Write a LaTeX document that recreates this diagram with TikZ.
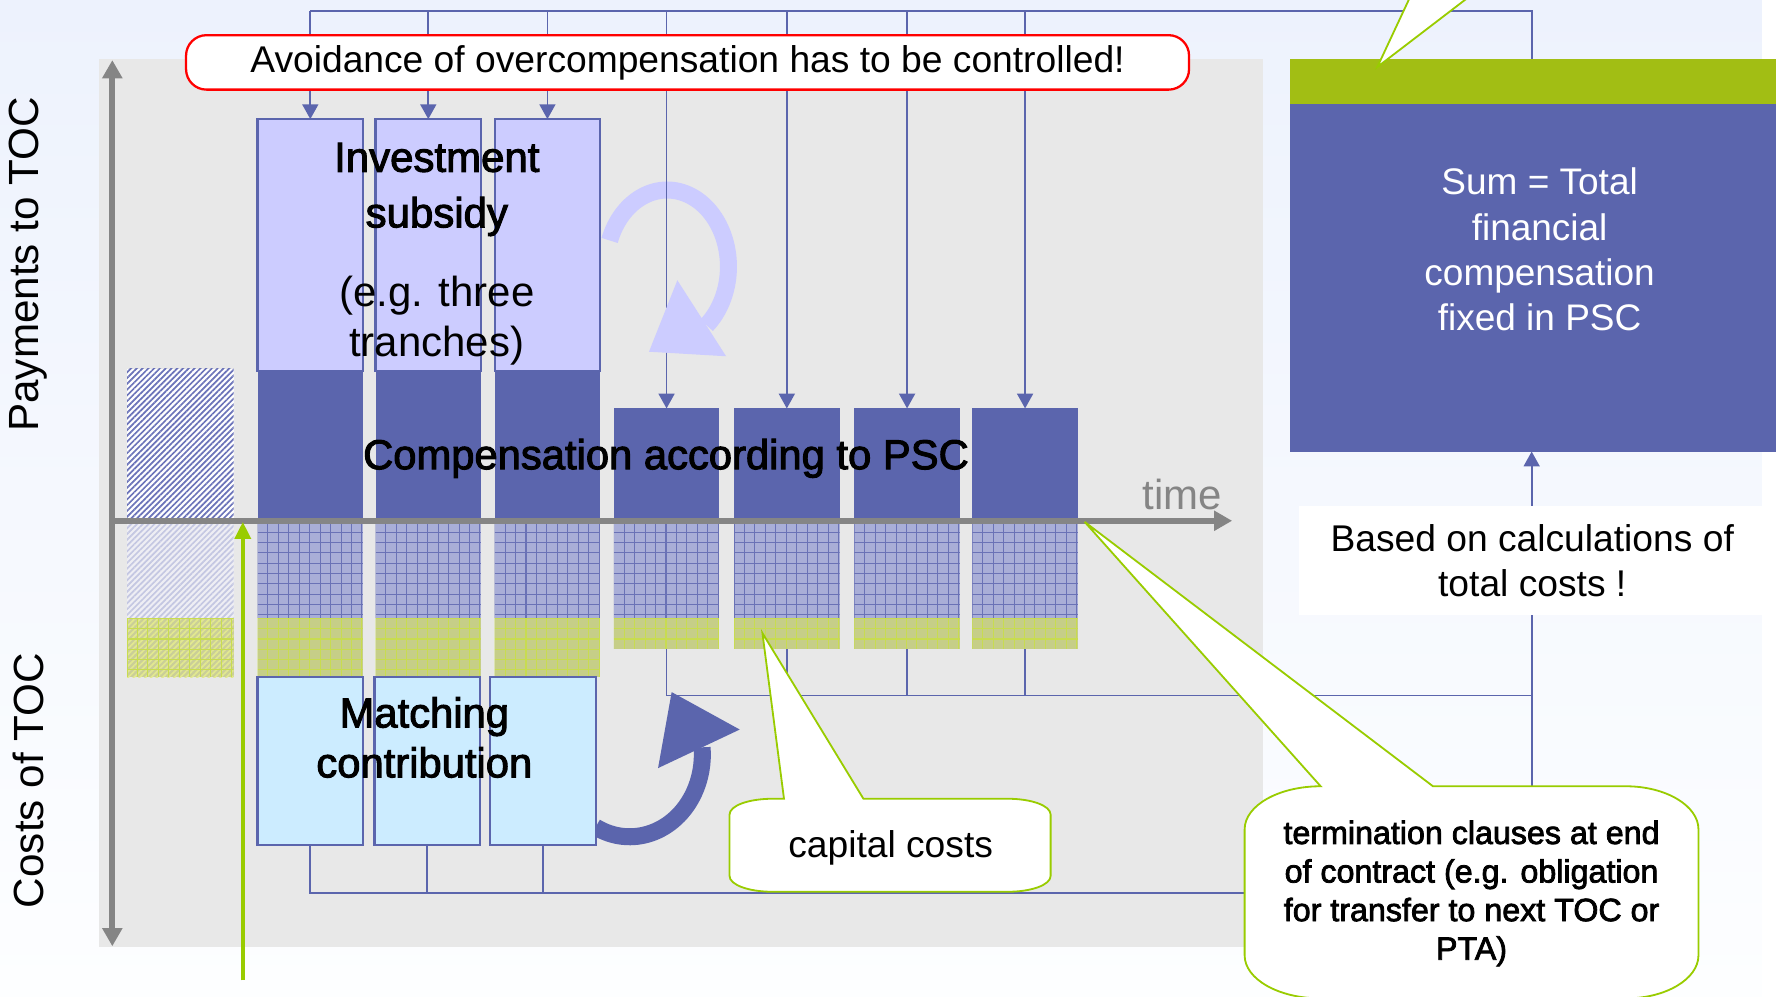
\documentclass[tikz,border=0pt]{standalone}
\usepackage{fontspec}
\setmainfont{Liberation Sans}
\newfontfamily\heavyface{Liberation Sans}[FakeBold=2.4]
\usetikzlibrary{arrows.meta,patterns.meta}

\definecolor{pscblue}{HTML}{5B65AD}
\definecolor{subsidyfill}{HTML}{CCCCFF}
\definecolor{matchfill}{HTML}{CCECFF}
\definecolor{panelgray}{HTML}{E8E8E8}
\definecolor{axisgray}{HTML}{858585}
\definecolor{olivebar}{HTML}{A2BE14}
\definecolor{calloutgreen}{HTML}{99CC00}
\definecolor{skytop}{HTML}{EDF2FD}
\definecolor{skybottom}{HTML}{FDFEFF}
\definecolor{meshbluefill}{HTML}{A9AED7}
\definecolor{meshblueline}{HTML}{6A72B6}
\definecolor{meshgreenfill}{HTML}{C6CE88}
\definecolor{meshgreenline}{HTML}{C8DC50}
\definecolor{hatchblue}{HTML}{6B73B9}
\definecolor{hatchpale}{HTML}{C4C7E2}
\definecolor{hatchpalefill}{HTML}{EEEEF4}
\definecolor{hatchgreenfill}{HTML}{CACE98}
\definecolor{hatchgreen}{HTML}{E2E890}

% square mesh lines, clipped to a block
\newcommand{\meshlines}[5]{%
  \begin{scope}
    \clip (#1,#2) rectangle (#3,#4);
    \foreach \mx in {0,9.2,...,99}{\draw[#5,line width=0.45pt] ({#1+\mx},#2) -- ({#1+\mx},#4);}
    \foreach \my in {0,9.1,...,140}{\draw[#5,line width=0.45pt] (#1,{#2+\my}) -- (#3,{#2+\my});}
  \end{scope}}
% cost block: fill plus mesh
\newcommand{\meshblock}[6]{%
  \fill[#5] (#1,#2) rectangle (#3,#4);
  \meshlines{#1}{#2}{#3}{#4}{#6}}

\begin{document}
\begin{tikzpicture}[x=0.5pt,y=-0.5pt,
  conn/.style={draw=pscblue,line width=0.8pt},
  tipped/.style={-{Triangle[length=6.5pt,width=7pt]}},
  axisline/.style={draw=axisgray,line width=2.6pt},
  boxbase/.style={anchor=north west,inner sep=0pt,outer sep=0pt,minimum width=46.5pt},
  subsidybox/.style={boxbase,fill=subsidyfill,draw=pscblue,line width=1pt,minimum height=111pt},
  tallpay/.style={boxbase,fill=pscblue,minimum height=66pt},
  shortpay/.style={boxbase,fill=pscblue,minimum height=49.5pt},
  matchbox/.style={boxbase,fill=matchfill,draw=pscblue,line width=1pt,minimum height=74pt},
  callout/.style={fill=white,draw=calloutgreen,line width=0.8pt},
  midtext/.style={font=\fontsize{16.4}{20}\selectfont,align=center,inner sep=0pt}
]
\useasboundingbox (0,0) rectangle (1568,878);

% backdrop and chart panel
\shade[top color=skytop,bottom color=skybottom] (0,0) rectangle (1553,878);
\fill[white] (1553,0) rectangle (1568,878);
\fill[panelgray] (87,52) rectangle (1113,835);

% hatched column left of the first tranche
\fill[white] (112,325) rectangle (206,459);
\fill[pattern={Lines[angle=45,distance=1.8pt,line width=0.75pt]},pattern color=hatchblue] (112,325) rectangle (206,459);
\fill[hatchpalefill] (112,459) rectangle (206,545);
\fill[pattern={Lines[angle=45,distance=1.8pt,line width=0.75pt]},pattern color=hatchpale] (112,459) rectangle (206,545);
\fill[hatchgreenfill] (112,545) rectangle (206,597);
\fill[pattern={Lines[angle=45,distance=1.8pt,line width=0.75pt]},pattern color=hatchgreen] (112,545) rectangle (206,597);
\meshlines{112}{545}{206}{597}{meshgreenline}

% cost blocks below the time axis
\meshblock{227}{460}{320}{545}{meshbluefill}{meshblueline}
\meshblock{331}{460}{424}{545}{meshbluefill}{meshblueline}
\meshblock{436}{460}{529}{545}{meshbluefill}{meshblueline}
\meshblock{227}{545}{320}{597}{meshgreenfill}{meshgreenline}
\meshblock{331}{545}{424}{597}{meshgreenfill}{meshgreenline}
\meshblock{436}{545}{529}{597}{meshgreenfill}{meshgreenline}
\meshblock{541}{460}{634}{545}{meshbluefill}{meshblueline}
\meshblock{647}{460}{740}{545}{meshbluefill}{meshblueline}
\meshblock{753}{460}{846}{545}{meshbluefill}{meshblueline}
\meshblock{857}{460}{950}{545}{meshbluefill}{meshblueline}
\meshblock{541}{545}{634}{572}{meshgreenfill}{meshgreenline}
\meshblock{647}{545}{740}{572}{meshgreenfill}{meshgreenline}
\meshblock{753}{545}{846}{572}{meshgreenfill}{meshgreenline}
\meshblock{857}{545}{950}{572}{meshgreenfill}{meshgreenline}
\coordinate (g4) at (587.5,572);
\coordinate (g5) at (693.5,572);
\coordinate (g6) at (799.5,572);
\coordinate (g7) at (903.5,572);

% circular arrows (ring parts)
\draw[subsidyfill,line width=7.5pt] (537.3,211.9) arc[start angle=200,end angle=410,x radius=54,y radius=67.5];
\draw[pscblue,line width=7.5pt] (525,729) arc[start angle=118,end angle=-5,x radius=64,y radius=72.5];

% investment subsidy tranches
\node[subsidybox] (i1) at (227,105) {};
\node[subsidybox] (i2) at (331,105) {};
\node[subsidybox] (i3) at (436,105) {};

% compensation according to PSC
\node[tallpay] (c1) at (227,327) {};
\node[tallpay] (c2) at (331,327) {};
\node[tallpay] (c3) at (436,327) {};
\node[shortpay] (c4) at (541,360) {};
\node[shortpay] (c5) at (647,360) {};
\node[shortpay] (c6) at (753,360) {};
\node[shortpay] (c7) at (857,360) {};

% matching contribution
\node[matchbox] (m1) at (227,597) {};
\node[matchbox] (m2) at (330,597) {};
\node[matchbox] (m3) at (432,597) {};

% total compensation box
\node[boxbase,fill=olivebar,minimum width=214pt,minimum height=20.3pt] (bar) at (1137,52) {};
\node[boxbase,fill=pscblue,minimum width=214pt,minimum height=153pt] (sum) at (1137,92) {};

% axes
\coordinate (origin) at (99,459);
\coordinate (ytop) at (99,53);
\coordinate (ybot) at (99,834);
\coordinate (xend) at (1086,459);
\draw[axisline,{Triangle[length=8pt,width=8.5pt]}-{Triangle[length=8pt,width=8.5pt]}] (ybot) -- (ytop);
\draw[axisline,-{Triangle[length=8pt,width=8.5pt]}] (origin) -- (xend);

% start of contract marker
\coordinate (greenfoot) at (214,864);
\coordinate (greenhead) at (214,460);
\draw[draw=calloutgreen,line width=1.7pt,-{Triangle[length=7.5pt,width=7pt]}] (greenfoot) -- (greenhead);

% payment flows from the top bus
\coordinate (topbus) at (1350,10);
\draw[conn] (i1.north |- topbus) -- (topbus) -- (topbus |- bar.north);
\foreach \n in {i1,i2,i3,c4,c5,c6,c7}{\draw[conn,tipped] (\n.north |- topbus) -- (\n.north);}

% cost flows into the total
\coordinate (midbus) at (1350,613);
\coordinate (lowbus) at (1350,787);
\draw[conn] (g4) -- (g4 |- midbus) -- (midbus);
\foreach \n in {g5,g6,g7}{\draw[conn] (\n) -- (\n |- midbus);}
\draw[conn] (m1.south) -- (m1.south |- lowbus) -- (lowbus);
\foreach \n in {m2,m3}{\draw[conn] (\n.south) -- (\n.south |- lowbus);}
\draw[conn,tipped] (lowbus) -- (lowbus |- sum.south);

% arrow heads of the circular arrows
\fill[subsidyfill] (597,247) -- (640,314) -- (572,310) -- cycle;
\fill[pscblue] (580,677) -- (652,643) -- (592,610) -- cycle;

% labels in the chart
\node[font=\heavyface\fontsize{18.5}{24.5}\selectfont,align=center,inner sep=0pt] (invtitle) at (385,167) {Investment\\subsidy};
\node[font=\fontsize{18.5}{22}\selectfont,align=center,inner sep=0pt] (invnote) at (385,283) {(e.g. three\\tranches)};
\node[font=\heavyface\fontsize{18.4}{22}\selectfont,inner sep=0pt] (comptext) at (587,404) {Compensation according to PSC};
\node[font=\heavyface\fontsize{18.4}{22}\selectfont,align=center,inner sep=0pt] (matchtext) at (374,650) {Matching\\contribution};
\node[font=\fontsize{18.5}{22}\selectfont,text=axisgray,inner sep=0pt] (timelabel) at (1042,436) {time};
\node[font=\fontsize{18.6}{22}\selectfont,rotate=90,inner sep=0pt] (paylabel) at (25,233) {Payments to TOC};
\node[font=\fontsize{18.6}{22}\selectfont,rotate=90,inner sep=0pt] (costlabel) at (25,688) {Costs of TOC};

% right-hand texts
\node[text=white,font=\fontsize{16.3}{20}\selectfont,align=center,inner sep=0pt] (sumtext) at (1357,220) {Sum = Total\\financial\\compensation\\fixed in PSC};
\node[boxbase,fill=white,minimum width=205.5pt,minimum height=48pt,midtext] (based) at (1145,446) {Based on calculations of\\total costs !};

% red warning banner
\node[draw=red,line width=1pt,fill=white,rounded corners=9pt,minimum width=442pt,minimum height=24pt,inner sep=0pt,midtext] (avoid) at (606,55) {Avoidance of overcompensation has to be controlled!};

% speech-bubble callouts
\draw[callout] (1243,-3) -- (1214,59) -- (1295,-3);
\draw[callout] (643,718) .. controls (643,710) and (660,704) .. (681,704) -- (691,704) -- (672,558) -- (761,704) -- (888,704) .. controls (909,704) and (926,710) .. (926,718) -- (926,772) .. controls (926,780) and (909,786) .. (888,786) -- (681,786) .. controls (660,786) and (643,780) .. (643,772) -- cycle;
\node[midtext] (capital) at (785,747) {capital costs};
\draw[callout] (1097,842) -- (1097,731) .. controls (1097,710) and (1127,693) .. (1164,693) -- (956,460) -- (1263,693) -- (1433,693) .. controls (1468,693) and (1497,710) .. (1497,731) -- (1497,842) .. controls (1497,863) and (1468,880) .. (1433,880) -- (1164,880) .. controls (1127,880) and (1097,863) .. (1097,842) -- cycle;
\node[font=\heavyface\fontsize{14.2}{17}\selectfont,align=center,inner sep=0pt] (termtext) at (1297,787.5) {termination clauses at end\\of contract (e.g. obligation\\for transfer to next TOC or\\PTA)};
\end{tikzpicture}
\end{document}
